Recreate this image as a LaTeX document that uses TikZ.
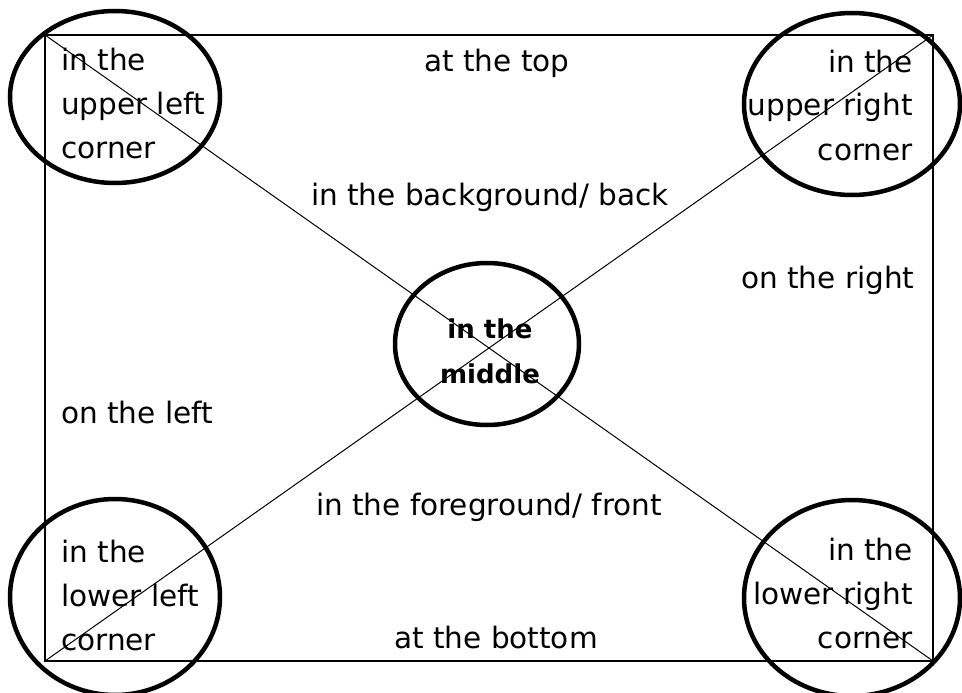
\documentclass[tikz,border=0pt]{standalone}
\usepackage{fontspec}
\setmainfont{DejaVu Sans}
\usetikzlibrary{shapes.geometric}
\begin{document}
\begin{tikzpicture}[x=1pt,y=-1pt,
  lab/.style={font=\fontsize{29.5}{44}\selectfont, inner sep=0pt},
  midlab/.style={font=\fontsize{26}{45}\selectfont\bfseries, inner sep=0pt, align=center},
  ring/.style={draw, ellipse, line width=4.5pt, inner sep=0pt, outer sep=0pt},
  diag/.style={line width=1pt},
]
\useasboundingbox[fill=white] (0,0) rectangle (962,693);
\node[draw, line width=2pt, minimum width=888pt, minimum height=626pt, inner sep=0pt, outer sep=0pt] (frame) at (489,348) {};
\draw[diag] (frame.north west) -- (frame.south east);
\draw[diag] (frame.south west) -- (frame.north east);

\node[ring, minimum width=210pt, minimum height=172pt] (ul) at (115,97) {};
\node[ring, minimum width=216pt, minimum height=182pt] (ur) at (852,104) {};
\node[ring, minimum width=210pt, minimum height=196pt] (ll) at (115,597) {};
\node[ring, minimum width=216pt, minimum height=196pt] (lr) at (852,598) {};
\node[ring, minimum width=184pt, minimum height=162pt] (mid) at (487,344) {};

\node[lab, anchor=base] (top) at (497,72) {at the top};
\node[lab, anchor=base] (bg) at (490,205) {in the background/ back};
\node[lab, anchor=base west] (right) at (741,288) {on the right};
\node[lab, anchor=base west] (left) at (61,423) {on the left};
\node[lab, anchor=base] (fg) at (489,515) {in the foreground/ front};
\node[lab, anchor=base] (bottom) at (496,648) {at the bottom};

\node[lab, align=left, anchor=base west] (ultext) at (61,158) {in the\\upper left\\corner};
\node[lab, align=right, anchor=base east] (urtext) at (913,160) {in the\\upper right\\corner};
\node[lab, align=left, anchor=base west] (lltext) at (61,650) {in the\\lower left\\corner};
\node[lab, align=right, anchor=base east] (lrtext) at (913,648) {in the\\lower right\\corner};
\node[midlab, anchor=base] (midtext) at (490,383) {in the\\middle};
\end{tikzpicture}
\end{document}
